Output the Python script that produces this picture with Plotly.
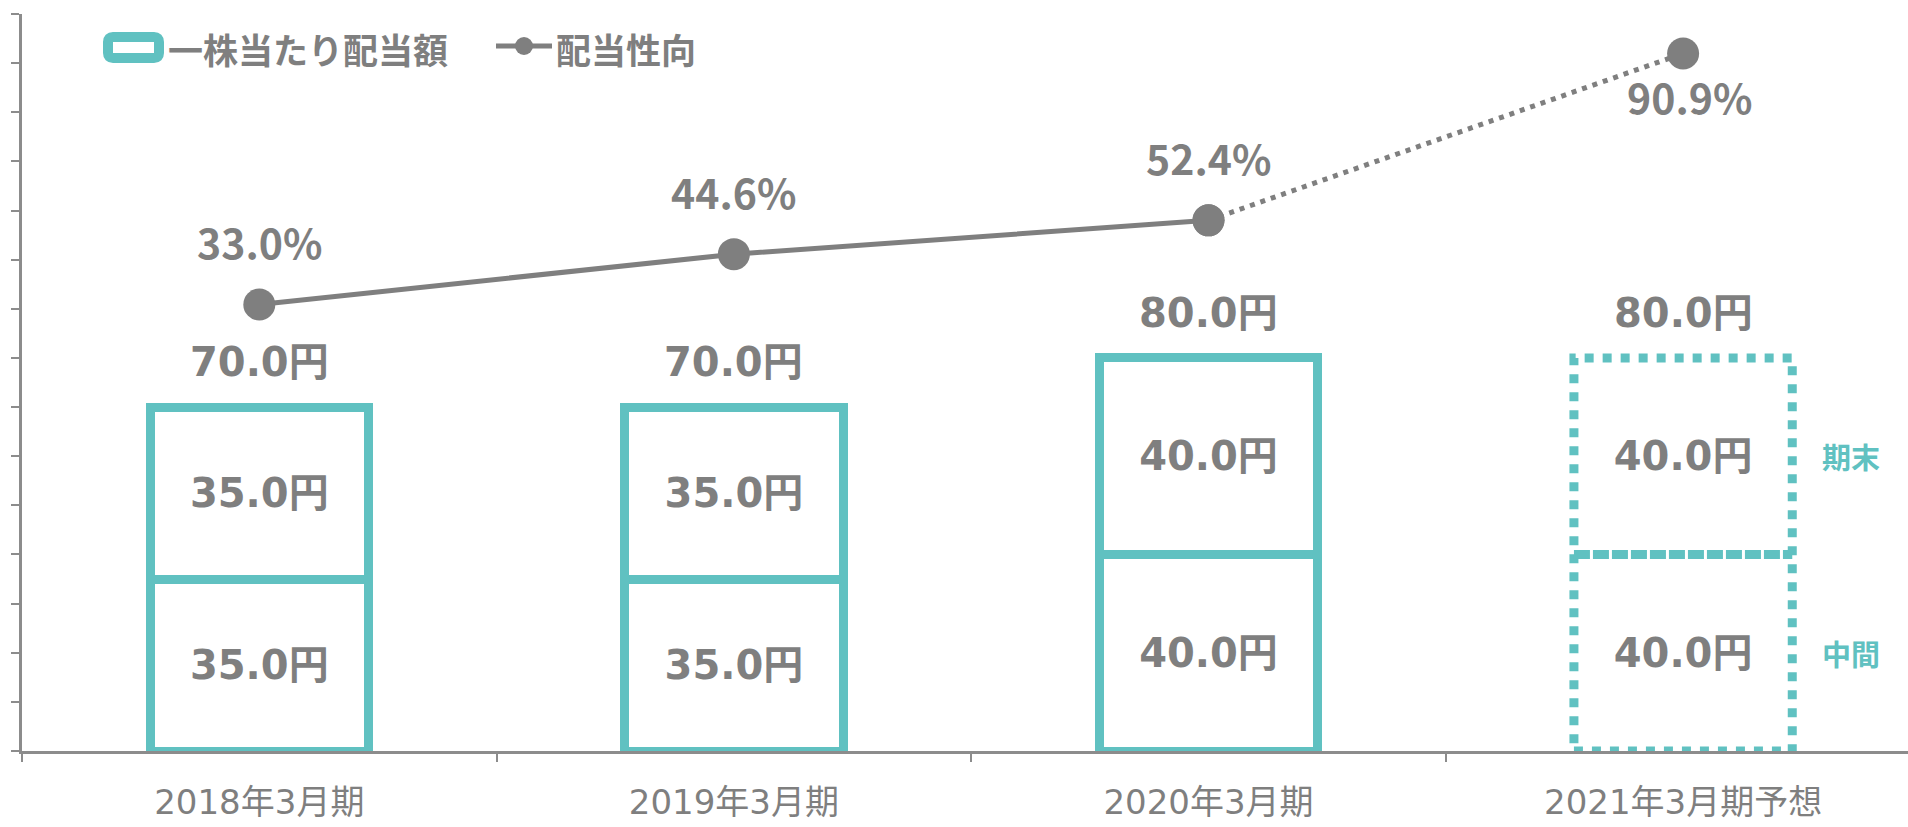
import plotly.graph_objects as go

# ---------------- data ----------------
categories = ["2018年3月期", "2019年3月期", "2020年3月期", "2021年3月期予想"]
interim_div = [35.0, 35.0, 40.0, 40.0]      # 中間
final_div = [35.0, 35.0, 40.0, 40.0]        # 期末
payout_ratio = [33.0, 44.6, 52.4, 90.9]     # 配当性向 (%)
forecast_flags = [False, False, False, True]
legend_labels = ["一株当たり配当額", "配当性向"]
segment_labels = ["中間", "期末"]

# ---------------- style ----------------
W, H = 1908, 827
ML, MR, MT, MB = 22, 0, 14, 76
TEAL = "#60C1C1"
GRAY = "#7F7F7F"
AXIS = "#8C8C8C"
BAR_W = 0.46
BAR_LW = 9
NUM_FONT = "DejaVu Sans, Noto Sans CJK JP"
JP_FONT = "Noto Sans CJK JP"

xs = list(range(len(categories)))
totals = [a + b for a, b in zip(interim_div, final_div)]
x_end = -0.5 + (W - ML - MR) / 474.6

def px(x):
    return (x - ML) / (W - ML - MR)

def py(y):
    return (H - MB - y) / (H - MT - MB)

fig = go.Figure()

lw = [0 if f else BAR_LW for f in forecast_flags]
for name, vals in [(segment_labels[0], interim_div), (segment_labels[1], final_div)]:
    fig.add_trace(go.Bar(
        x=xs, y=vals, width=BAR_W, name=name,
        marker=dict(color="white", line=dict(color=TEAL, width=lw)),
        texttemplate="%{y:.1f}円", textposition="inside", insidetextanchor="middle",
        textfont=dict(family=NUM_FONT, size=40, color=GRAY, weight="bold"),
        constraintext="none", showlegend=False, cliponaxis=False,
    ))

# dotted outline for forecast bar(s)
for i, f in enumerate(forecast_flags):
    if f:
        fig.add_shape(type="rect", xref="x", yref="y",
                      x0=xs[i] - BAR_W / 2, x1=xs[i] + BAR_W / 2, y0=0, y1=totals[i],
                      line=dict(color=TEAL, width=BAR_LW, dash="dot"), fillcolor="rgba(0,0,0,0)")
        fig.add_shape(type="line", xref="x", yref="y",
                      x0=xs[i] - BAR_W / 2, x1=xs[i] + BAR_W / 2, y0=interim_div[i], y1=interim_div[i],
                      line=dict(color=TEAL, width=BAR_LW, dash="16px,3px"))
        fig.add_annotation(x=xs[i] + BAR_W / 2, y=interim_div[i] / 2, xref="x", yref="y",
                           text=segment_labels[0], showarrow=False, xanchor="left", xshift=28,
                           font=dict(family=JP_FONT, size=29, color=TEAL, weight="bold"))
        fig.add_annotation(x=xs[i] + BAR_W / 2, y=interim_div[i] + final_div[i] / 2, xref="x", yref="y",
                           text=segment_labels[1], showarrow=False, xanchor="left", xshift=28,
                           font=dict(family=JP_FONT, size=29, color=TEAL, weight="bold"))

# total labels
for i, t in enumerate(totals):
    fig.add_annotation(x=xs[i], y=t, xref="x", yref="y", text=f"{t:.1f}円", showarrow=False,
                       yshift=45, font=dict(family=NUM_FONT, size=40, color=GRAY, weight="bold"))

# payout ratio line
actual_idx = [i for i, f in enumerate(forecast_flags) if not f]
fc_idx = [actual_idx[-1]] + [i for i, f in enumerate(forecast_flags) if f]
fig.add_trace(go.Scatter(
    x=[xs[i] for i in actual_idx], y=[payout_ratio[i] for i in actual_idx], yaxis="y2",
    mode="lines+markers", line=dict(color=GRAY, width=5), marker=dict(size=32, color=GRAY),
    showlegend=False, cliponaxis=False,
))
fig.add_trace(go.Scatter(
    x=[xs[i] for i in fc_idx], y=[payout_ratio[i] for i in fc_idx], yaxis="y2",
    mode="lines+markers", line=dict(color=GRAY, width=5, dash="5px,6px"), marker=dict(size=32, color=GRAY),
    showlegend=False, cliponaxis=False,
))
for i, v in enumerate(payout_ratio):
    fig.add_annotation(x=xs[i], y=v, xref="x", yref="y2", text=f"{v:.1f}%", showarrow=False,
                       yshift=(-43 if forecast_flags[i] else 63), xshift=(6 if forecast_flags[i] else 0),
                       font=dict(family=JP_FONT, size=41, color=GRAY, weight="bold"))

# manual legend
def rrect(x0, y0, x1, y1, r):
    X = lambda v: px(v)
    Y = lambda v: py(v)
    return (f"M{X(x0 + r)},{Y(y0)} L{X(x1 - r)},{Y(y0)} Q{X(x1)},{Y(y0)} {X(x1)},{Y(y0 + r)} "
            f"L{X(x1)},{Y(y1 - r)} Q{X(x1)},{Y(y1)} {X(x1 - r)},{Y(y1)} L{X(x0 + r)},{Y(y1)} "
            f"Q{X(x0)},{Y(y1)} {X(x0)},{Y(y1 - r)} L{X(x0)},{Y(y0 + r)} Q{X(x0)},{Y(y0)} {X(x0 + r)},{Y(y0)} Z")

fig.add_shape(type="path", xref="paper", yref="paper", path=rrect(108, 37, 159, 58, 5),
              line=dict(color=TEAL, width=10), fillcolor="white")
fig.add_annotation(x=px(166), y=py(48), xref="paper", yref="paper", text=legend_labels[0],
                   showarrow=False, xanchor="left", yanchor="middle",
                   font=dict(family=JP_FONT, size=35, color=GRAY, weight="bold"))
fig.add_shape(type="line", xref="paper", yref="paper", x0=px(496), x1=px(552), y0=py(46), y1=py(46),
              line=dict(color=GRAY, width=5))
fig.add_shape(type="circle", xref="paper", yref="paper", x0=px(515), x1=px(533), y0=py(37), y1=py(55),
              line=dict(color=GRAY, width=0), fillcolor=GRAY)
fig.add_annotation(x=px(554), y=py(48), xref="paper", yref="paper", text=legend_labels[1],
                   showarrow=False, xanchor="left", yanchor="middle",
                   font=dict(family=JP_FONT, size=35, color=GRAY, weight="bold"))

fig.update_layout(
    width=W, height=H, margin=dict(l=ML, r=MR, t=MT, b=MB, pad=0, autoexpand=False),
    paper_bgcolor="white", plot_bgcolor="white", barmode="stack", showlegend=False,
    xaxis=dict(range=[-0.5, x_end], tickmode="array", tickvals=xs, ticktext=categories, automargin=False,
               ticks="", showgrid=False, zeroline=False, showline=True, linecolor=AXIS, linewidth=2.5,
               tickfont=dict(family=NUM_FONT, size=34, color=GRAY), ticklabelstandoff=19,
               minor=dict(tickmode="linear", tick0=-0.5, dtick=1, ticks="outside", ticklen=8,
                          tickwidth=2, tickcolor=AXIS)),
    yaxis=dict(range=[0, 150], dtick=10, tick0=0, ticks="outside", ticklen=8, tickwidth=2, tickcolor=AXIS,
               showticklabels=False, showgrid=False, zeroline=False, showline=True, automargin=False,
               linecolor=AXIS, linewidth=2.5),
    yaxis2=dict(range=[-70, 100], overlaying="y", visible=False, showgrid=False, zeroline=False,
                automargin=False),
)

fig.write_html("out.html", config={"displayModeBar": False},
               post_script="document.body.style.margin='0';document.body.style.overflow='hidden';")
